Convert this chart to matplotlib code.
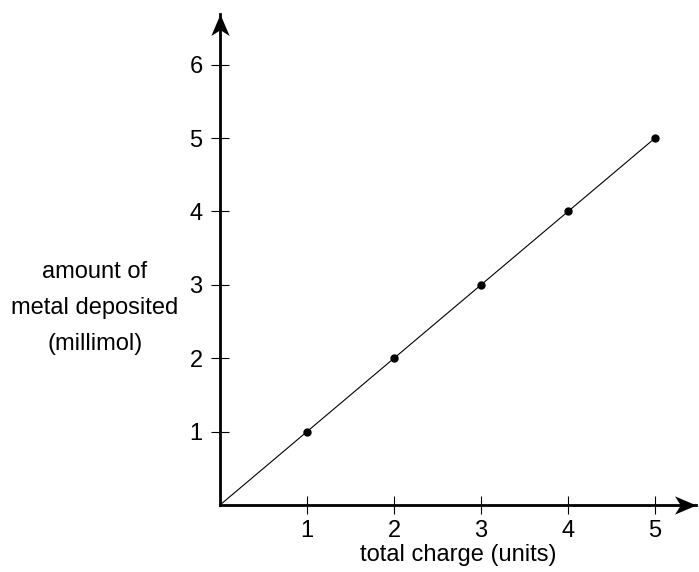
import matplotlib.pyplot as plt
from matplotlib.path import Path

plt.rcParams['font.family'] = ['Liberation Sans', 'DejaVu Sans']

charge = [1, 2, 3, 4, 5]
metal = [1, 2, 3, 4, 5]
x_ticks = [1, 2, 3, 4, 5]
y_ticks = [1, 2, 3, 4, 5, 6]

fig = plt.figure(figsize=(6.99, 5.72), dpi=100)
ax = fig.add_axes([220 / 699, 67 / 572, 476 / 699, 491 / 572])
ax.set_xlim(0, 5.47)
ax.set_ylim(0, 6.69)

# line through origin plus the measured points
ax.plot([0] + charge, [0] + metal, color='black', lw=0.8)
ax.plot(charge, metal, 'o', color='black', markersize=5)

ax.spines['top'].set_visible(False)
ax.spines['right'].set_visible(False)
ax.spines['left'].set_linewidth(2)
ax.spines['bottom'].set_linewidth(2)

# stealth arrow heads, tip at the path origin
head_x = Path([(0, 0), (-2, 0.85), (-1.45, 0), (-2, -0.85), (0, 0)],
              [Path.MOVETO, Path.LINETO, Path.LINETO, Path.LINETO, Path.CLOSEPOLY])
head_y = Path([(0, 0), (-0.85, -2), (0, -1.45), (0.85, -2), (0, 0)],
              [Path.MOVETO, Path.LINETO, Path.LINETO, Path.LINETO, Path.CLOSEPOLY])
ax.plot([1], [0], transform=ax.transAxes, marker=head_x, markersize=31,
        color='black', clip_on=False, markeredgewidth=0)
ax.plot([0], [1], transform=ax.transAxes, marker=head_y, markersize=31,
        color='black', clip_on=False, markeredgewidth=0)

ax.set_xticks(x_ticks)
ax.set_yticks(y_ticks)
ax.tick_params(direction='inout', length=13, width=0.8, labelsize=17, pad=4)
ax.tick_params(axis='y', pad=6)

ax.set_xlabel('total charge (units)', fontsize=17, labelpad=2)
fig.text(95 / 699, 1 - 308 / 572, 'amount of\nmetal deposited\n(millimol)',
         ha='center', va='center', fontsize=17, linespacing=1.8)

fig.savefig('out.png', dpi=100)
